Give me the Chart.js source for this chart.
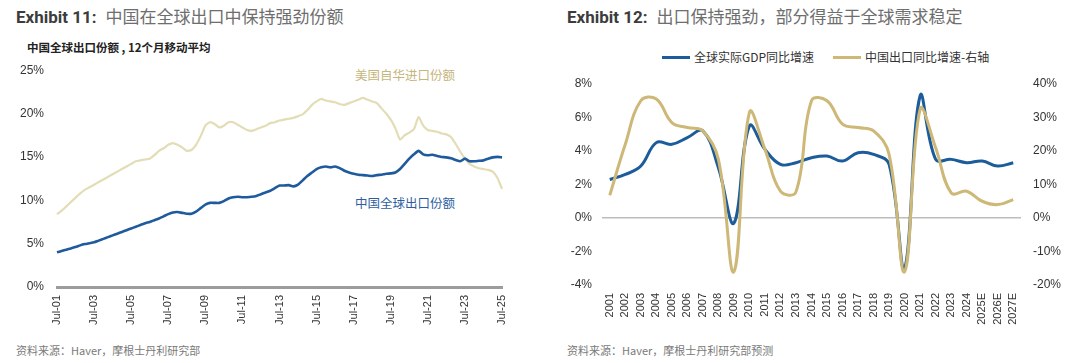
<!DOCTYPE html>
<html><head><meta charset="utf-8">
<script src="https://cdn.jsdelivr.net/npm/chart.js@4.4.1/dist/chart.umd.min.js"></script>
<style>
body{margin:0;width:1080px;height:363px;background:#fff;position:relative;overflow:hidden;font-family:"Noto Sans CJK SC","Noto Sans",sans-serif;}
.abs{position:absolute;white-space:nowrap;}
.title{font-size:17px;line-height:24px;color:#6e6e6e;}
.title b{font-family:Roboto,"Liberation Sans",sans-serif;font-weight:700;color:#3c3c3c;margin-right:9px;}
.sub{font-size:11.5px;line-height:14px;color:#222;font-weight:700;}
.src{font-size:11px;line-height:14px;color:#7a7a7a;}
.lab{font-size:12.5px;line-height:16px;}
.leg{font-size:12px;line-height:14px;color:#333;}
.sw{display:inline-block;width:28px;height:3px;vertical-align:middle;margin-right:4px;position:relative;top:-1px;}
</style></head>
<body>
<div class="abs title" style="left:16px;top:4px;"><b>Exhibit 11:</b>中国在全球出口中保持强劲份额</div>
<div class="abs sub" style="left:27px;top:40px;">中国全球出口份额 , 12个月移动平均</div>
<div class="abs lab" style="left:355px;top:67px;color:#c6b57c;">美国自华进口份额</div>
<div class="abs lab" style="left:355px;top:195px;color:#2e5e9e;">中国全球出口份额</div>
<div class="abs src" style="left:16px;top:343px;">资料来源：Haver，摩根士丹利研究部</div>

<div class="abs title" style="left:567px;top:4px;"><b>Exhibit 12:</b>出口保持强劲，部分得益于全球需求稳定</div>
<div class="abs leg" style="left:662px;top:50px;"><span class="sw" style="background:#1d5c9b"></span>全球实际GDP同比增速</div>
<div class="abs leg" style="left:833px;top:50px;"><span class="sw" style="background:#cdb877"></span>中国出口同比增速-右轴</div>
<div class="abs src" style="left:567px;top:343px;">资料来源：Haver，摩根士丹利研究部预测</div>

<canvas id="c1" width="540" height="290" class="abs" style="left:0;top:50px;"></canvas>
<canvas id="c2" width="540" height="280" class="abs" style="left:540px;top:60px;"></canvas>

<script>
// ---------- Exhibit 11 data (quarterly readings, Jul-01 .. Jul-25) ----------
const months = ['Jul','Oct','Jan','Apr'];
const quarterLabels = [];
for (let i = 0; i <= 96; i++) {
  const m = months[i % 4];
  const yr = 1 + Math.floor((i + 2) / 4);
  quarterLabels.push(m + '-' + String(yr).padStart(2, '0'));
}
const chinaWorldShare = [
  4.0,4.15,4.3,4.45,4.6,4.8,4.95,5.05,5.15,5.35,5.55,5.75,5.95,6.15,6.35,6.55,
  6.75,6.95,7.15,7.35,7.5,7.7,7.9,8.15,8.4,8.6,8.65,8.55,8.45,8.45,8.7,9.1,
  9.5,9.7,9.7,9.7,9.9,10.2,10.35,10.4,10.35,10.35,10.4,10.5,10.7,10.9,11.1,11.4,
  11.7,11.7,11.75,11.6,11.8,12.3,12.8,13.2,13.6,13.8,13.9,13.8,13.9,13.7,13.4,13.2,
  13.05,12.95,12.9,12.85,12.8,12.9,12.95,13.05,13.1,13.2,13.6,14.2,14.8,15.3,15.7,15.3,
  15.2,15.25,15.1,15.0,14.95,14.85,14.65,14.5,14.8,14.5,14.5,14.55,14.6,14.8,14.95,15.0,
  14.95
];
const usImportsFromChina = [
  8.4,8.8,9.3,9.8,10.3,10.8,11.2,11.5,11.8,12.1,12.4,12.7,13.0,13.3,13.6,13.9,
  14.2,14.5,14.6,14.7,14.8,15.2,15.7,16.0,16.4,16.6,16.4,16.1,15.7,15.8,16.4,17.4,
  18.6,19.0,18.8,18.4,18.6,19.0,19.0,18.7,18.4,18.1,18.0,18.2,18.4,18.6,18.9,19.0,
  19.2,19.3,19.4,19.5,19.7,19.9,20.4,21.0,21.4,21.7,21.5,21.4,21.3,21.1,21.0,21.2,
  21.4,21.6,21.8,21.6,21.4,21.2,20.6,20.0,19.3,18.3,17.0,17.5,17.8,18.2,19.6,18.6,
  18.1,18.0,17.9,17.7,17.6,17.3,16.5,15.6,14.8,14.2,13.9,13.7,13.6,13.5,13.3,12.6,
  11.3
];
const leftTicks = [0,5,10,15,20,25];

// ---------- Exhibit 12 data (annual) ----------
const years = ['2001','2002','2003','2004','2005','2006','2007','2008','2009','2010','2011','2012','2013','2014','2015','2016','2017','2018','2019','2020','2021','2022','2023','2024','2025E','2026E','2027E'];
const worldGdpGrowth = [2.3,2.6,3.1,4.5,4.4,4.8,5.2,3.0,-0.3,5.5,4.1,3.2,3.3,3.6,3.7,3.4,3.9,3.8,3.2,-3.0,7.3,3.5,3.5,3.3,3.4,3.1,3.3];
const chinaExportGrowth = [6.8,22,35,35.5,28.5,27,26,17.5,-16,31.5,20.5,8,7.8,35,35,28,27,26,19,-16,32.5,21,7.5,8,5,4,5.5];

const tickFont = {family:'"Liberation Sans Narrow","Liberation Sans",Arial,sans-serif', size:12};
const xFont = {family:'"Liberation Sans",Arial,sans-serif', size:11};

new Chart(document.getElementById('c1'), {
  type:'line',
  data:{labels:quarterLabels, datasets:[
    {data:chinaWorldShare, borderColor:'#1f5b9c', borderWidth:2.6, pointRadius:0, tension:0.2},
    {data:usImportsFromChina, borderColor:'#e3ddb6', borderWidth:2.2, pointRadius:0, tension:0.2}
  ]},
  options:{
    responsive:false, animation:false, devicePixelRatio:1,
    layout:{padding:{top:17,right:38,left:0,bottom:0}},
    plugins:{legend:{display:false}, tooltip:{enabled:false}},
    scales:{
      x:{type:'category', grid:{display:false, drawTicks:false}, border:{display:true,color:'#9c9c9c',width:3},
         ticks:{autoSkip:false,minRotation:90,maxRotation:90,padding:8,color:'#333',font:xFont,
           callback:(v,i)=> i%8===0 ? quarterLabels[i] : ''},
         afterFit:s=>{s.height=53;}},
      y:{min:0,max:25,grid:{display:false,drawTicks:false},border:{display:false},
         afterBuildTicks:s=>{s.ticks=leftTicks.map(v=>({value:v}));},
         ticks:{padding:13,color:'#333',font:tickFont,callback:v=>v+'%'},
         afterFit:s=>{s.width=57;}}
    }
  }
});

new Chart(document.getElementById('c2'), {
  type:'line',
  data:{labels:years, datasets:[
    {data:chinaExportGrowth, yAxisID:'y1', borderColor:'#cdb877', borderWidth:3, pointRadius:0, tension:0.4},
    {data:worldGdpGrowth, yAxisID:'y', borderColor:'#1d5c9b', borderWidth:3, pointRadius:0, tension:0.4}
  ]},
  options:{
    responsive:false, animation:false, devicePixelRatio:1,
    layout:{padding:{top:24,right:0,left:0,bottom:0}},
    plugins:{legend:{display:false}, tooltip:{enabled:false}},
    scales:{
      x:{type:'category', offset:true, grid:{display:false,drawTicks:false}, border:{display:false},
         ticks:{autoSkip:false,minRotation:90,maxRotation:90,padding:8,color:'#333',font:xFont},
         afterFit:s=>{s.height=55;}},
      y:{position:'left',min:-4,max:8,
         grid:{drawTicks:false,color:c=>c.tick&&c.tick.value===0?'#bdbdbd':'rgba(0,0,0,0)',lineWidth:1.6},
         border:{display:false},
         ticks:{stepSize:2,padding:10,color:'#333',font:tickFont,callback:v=>v+'%'},
         afterFit:s=>{s.width=62;}},
      y1:{position:'right',min:-20,max:40,grid:{display:false,drawTicks:false},border:{display:false},
         ticks:{stepSize:10,padding:12,color:'#333',font:tickFont,callback:v=>v+'%'},
         afterFit:s=>{s.width=59;}}
    }
  }
});
</script>
</body></html>
